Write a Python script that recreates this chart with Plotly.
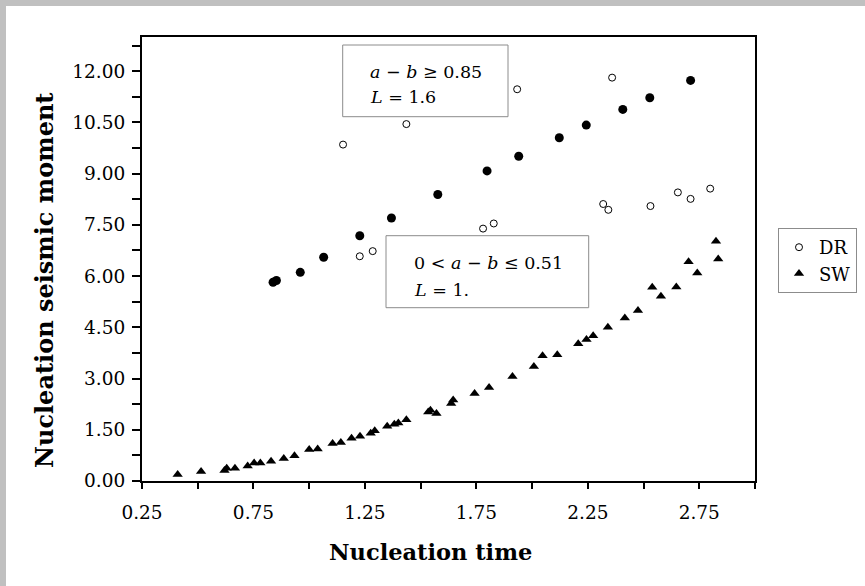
import plotly.graph_objects as go

# ---- data ----
dr_open_x = [1.152, 1.436, 1.227, 1.285, 1.780, 1.828, 1.933, 2.359, 2.319, 2.342, 2.531, 2.654, 2.711, 2.799]
dr_open_y = [9.85, 10.45, 6.58, 6.73, 7.39, 7.54, 11.47, 11.81, 8.11, 7.94, 8.05, 8.45, 8.26, 8.56]

dr_fill_x = [0.838, 0.853, 0.960, 1.065, 1.227, 1.369, 1.577, 1.798, 1.940, 2.122, 2.243, 2.407, 2.528, 2.711]
dr_fill_y = [5.82, 5.87, 6.11, 6.55, 7.18, 7.70, 8.39, 9.08, 9.51, 10.05, 10.42, 10.88, 11.22, 11.73]

sw_x = [0.41, 0.515, 0.62, 0.63, 0.667, 0.724, 0.753, 0.781, 0.829, 0.886, 0.934, 1.000, 1.038,
        1.105, 1.142, 1.19, 1.228, 1.276, 1.294, 1.35, 1.382, 1.40, 1.436, 1.534, 1.544, 1.571,
        1.637, 1.646, 1.742, 1.807, 1.912, 2.008, 2.047, 2.113, 2.207, 2.244, 2.274, 2.34, 2.416,
        2.475, 2.539, 2.578, 2.647, 2.702, 2.741, 2.825, 2.835]
sw_y = [0.19, 0.28, 0.31, 0.37, 0.37, 0.44, 0.53, 0.53, 0.58, 0.66, 0.74, 0.92, 0.94,
        1.10, 1.13, 1.25, 1.31, 1.40, 1.47, 1.60, 1.66, 1.70, 1.79, 2.02, 2.07, 1.98,
        2.27, 2.37, 2.56, 2.74, 3.06, 3.35, 3.67, 3.70, 4.02, 4.14, 4.25, 4.50, 4.77,
        4.99, 5.67, 5.41, 5.68, 6.42, 6.09, 7.02, 6.50]

x_tickvals = [0.25, 0.5, 0.75, 1.0, 1.25, 1.5, 1.75, 2.0, 2.25, 2.5, 2.75, 3.0]
x_ticktext = ["0.25", "", "0.75", "", "1.25", "", "1.75", "", "2.25", "", "2.75", ""]
y_tickvals = [0, 0.75, 1.5, 2.25, 3.0, 3.75, 4.5, 5.25, 6.0, 6.75, 7.5, 8.25, 9.0, 9.75,
              10.5, 11.25, 12.0, 12.75]
y_ticktext = ["0.00", "", "1.50", "", "3.00", "", "4.50", "", "6.00", "", "7.50", "", "9.00", "",
              "10.50", "", "12.00", ""]

FONT = "DejaVu Serif"
W, H = 865, 586
ML, MR, MT, MB = 142, 110, 37, 105
PW, PH = W - ML - MR, H - MT - MB


def px(x):
    return (x - ML) / PW


def py(y):
    return (H - MB - y) / PH


fig = go.Figure()
fig.add_trace(go.Scatter(x=dr_open_x, y=dr_open_y, mode="markers", name="DR",
                         marker=dict(symbol="circle", size=7, color="white",
                                     line=dict(color="black", width=1))))
fig.add_trace(go.Scatter(x=sw_x, y=sw_y, mode="markers", name="SW",
                         marker=dict(symbol="triangle-up", size=9, color="black",
                                     line=dict(width=0))))
fig.add_trace(go.Scatter(x=dr_fill_x, y=dr_fill_y, mode="markers", name="DR (a-b ≥ 0.85)",
                         showlegend=False,
                         marker=dict(symbol="circle", size=9, color="black",
                                     line=dict(width=0))))

shapes = [
    # gray frame strips (left and top)
    dict(type="rect", xref="paper", yref="paper", x0=px(0), x1=px(6), y0=py(H), y1=py(0),
         fillcolor="#c0c0c0", line=dict(width=0), layer="below"),
    dict(type="rect", xref="paper", yref="paper", x0=px(0), x1=px(W), y0=py(6), y1=py(0),
         fillcolor="#c0c0c0", line=dict(width=0), layer="below"),
    # annotation boxes
    dict(type="rect", xref="paper", yref="paper", x0=px(342.7), x1=px(508), y0=py(116.7), y1=py(45),
         fillcolor="white", line=dict(color="#8c8c8c", width=1), layer="above"),
    dict(type="rect", xref="paper", yref="paper", x0=px(386), x1=px(588.7), y0=py(307.7), y1=py(235.7),
         fillcolor="white", line=dict(color="#8c8c8c", width=1), layer="above"),
]

ann_font = dict(family=FONT, size=17.5, color="black")
annotations = [
    dict(xref="paper", yref="paper", x=px(368), y=py(71.7), xanchor="left", yanchor="middle",
         text="<i>a</i> − <i>b</i> ≥ 0.85", showarrow=False, font=ann_font),
    dict(xref="paper", yref="paper", x=px(368), y=py(96.7), xanchor="left", yanchor="middle",
         text="<i>L</i> = 1.6", showarrow=False, font=ann_font),
    dict(xref="paper", yref="paper", x=px(412), y=py(263), xanchor="left", yanchor="middle",
         text="0 < <i>a</i> − <i>b</i> ≤ 0.51", showarrow=False, font=ann_font),
    dict(xref="paper", yref="paper", x=px(412), y=py(290), xanchor="left", yanchor="middle",
         text="<i>L</i> = 1.", showarrow=False, font=ann_font),
    # axis titles
    dict(xref="paper", yref="paper", x=px(44), y=py(281), xanchor="center", yanchor="middle",
         text="Nucleation seismic moment", textangle=-90, showarrow=False,
         font=dict(family=FONT, size=24, color="black", weight="bold")),
    dict(xref="paper", yref="paper", x=px(430), y=py(552), xanchor="center", yanchor="middle",
         text="Nucleation time", showarrow=False,
         font=dict(family=FONT, size=22.5, color="black", weight="bold")),
]

fig.update_layout(
    width=W, height=H,
    margin=dict(l=ML, r=MR, t=MT, b=MB, pad=0, autoexpand=False),
    paper_bgcolor="white", plot_bgcolor="white",
    font=dict(family=FONT, size=18, color="black"),
    shapes=shapes, annotations=annotations,
    showlegend=True,
    legend=dict(x=px(778), y=py(228), xanchor="left", yanchor="top",
                bgcolor="white", bordercolor="#8c8c8c", borderwidth=1,
                font=dict(family=FONT, size=18, color="black"),
                itemwidth=30, tracegroupgap=0),
)
fig.update_xaxes(range=[0.25, 3.0], tickmode="array", tickvals=x_tickvals, ticktext=x_ticktext,
                 ticks="outside", ticklen=6, tickwidth=1.5, tickcolor="black",
                 showline=True, linewidth=2, linecolor="black", mirror=True,
                 showgrid=False, zeroline=False, ticklabelstandoff=8,
                 tickfont=dict(family=FONT, size=18.5))
fig.update_yaxes(range=[0, 13], tickmode="array", tickvals=y_tickvals, ticktext=y_ticktext,
                 ticks="outside", ticklen=8, tickwidth=1.5, tickcolor="black",
                 showline=True, linewidth=2, linecolor="black", mirror=True,
                 showgrid=False, zeroline=False, ticklabelstandoff=3,
                 tickfont=dict(family=FONT, size=18.5))

fig.write_html("out.html", config={"displayModeBar": False},
               post_script="document.body.style.margin='0';")
